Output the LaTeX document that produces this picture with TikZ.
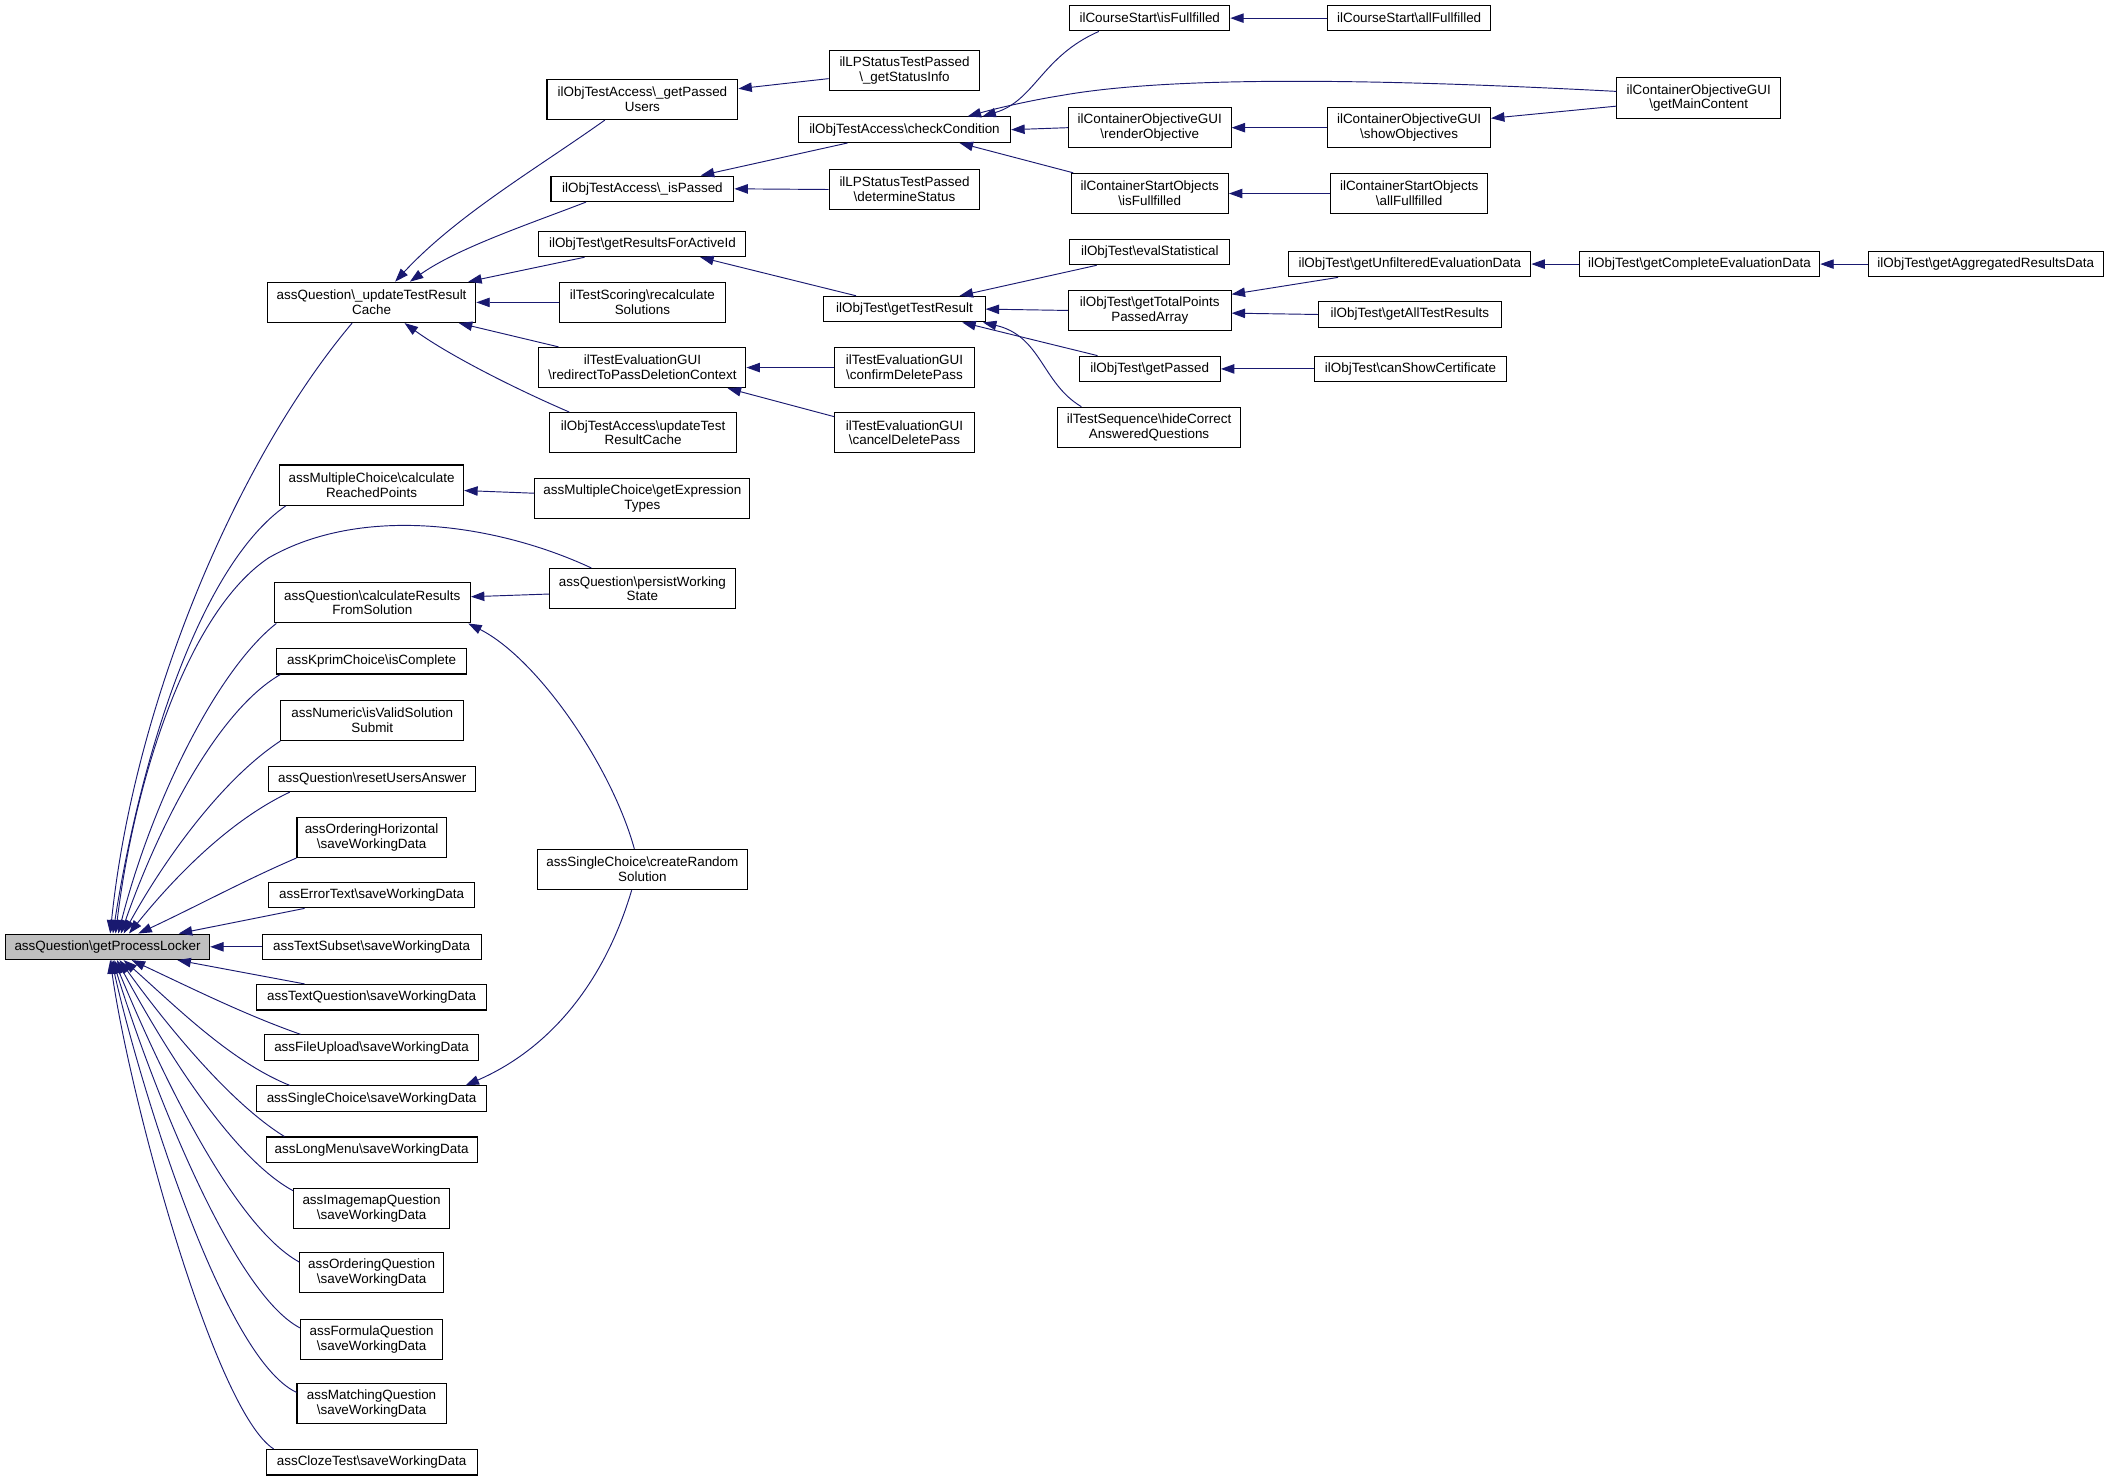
\documentclass[tikz,border=0pt]{standalone}
\usepackage{fontspec}
\setmainfont{Liberation Sans}
\usetikzlibrary{arrows.meta}
\definecolor{edgeblue}{HTML}{191970}
\definecolor{rootgray}{HTML}{BFBFBF}
\newcommand{\bs}{\textbackslash}
\tikzset{
  fn/.style={draw=black, line width=0.8pt, fill=white, inner sep=0pt, align=center,
    minimum height=19pt, font=\fontsize{10}{11}\selectfont},
  fntwo/.style={fn, minimum height=30pt},
  rootfn/.style={fn, fill=rootgray},
  edge/.style={draw=edgeblue, line width=0.7pt, -{Triangle[length=10pt,width=7pt]}},
}
\begin{document}
\begin{tikzpicture}[x=1pt,y=-1pt]
\useasboundingbox (0,0) rectangle (1568.5,1102);
% root
\node[rootfn, minimum width=152pt] (root) at (80,704.5) {assQuestion\bs getProcessLocker};
% column 2
\node[fntwo, minimum width=155pt] (uq) at (276.5,225) {assQuestion\bs\_updateTestResult\\Cache};
\node[fntwo, minimum width=137pt] (mc) at (276.5,361) {assMultipleChoice\bs calculate\\ReachedPoints};
\node[fntwo, minimum width=146pt] (cr) at (277,448.5) {assQuestion\bs calculateResults\\FromSolution};
\node[fn, minimum width=141pt] (kp) at (276.5,492) {assKprimChoice\bs isComplete};
\node[fntwo, minimum width=136pt] (nv) at (277,536) {assNumeric\bs isValidSolution\\Submit};
\node[fn, minimum width=154pt] (ru) at (277,579.5) {assQuestion\bs resetUsersAnswer};
\node[fntwo, minimum width=111pt] (oh) at (276.5,623) {assOrderingHorizontal\\\bs saveWorkingData};
\node[fn, minimum width=153pt] (et) at (276.5,666) {assErrorText\bs saveWorkingData};
\node[fn, minimum width=163pt] (ts) at (276.5,704.5) {assTextSubset\bs saveWorkingData};
\node[fn, minimum width=171pt] (tq) at (276.5,742) {assTextQuestion\bs saveWorkingData};
\node[fn, minimum width=159pt] (fu) at (276.5,779.5) {assFileUpload\bs saveWorkingData};
\node[fn, minimum width=171pt] (sc) at (276.5,817.5) {assSingleChoice\bs saveWorkingData};
\node[fn, minimum width=157pt] (lm) at (276.5,855.5) {assLongMenu\bs saveWorkingData};
\node[fntwo, minimum width=116pt] (im) at (276.5,899) {assImagemapQuestion\\\bs saveWorkingData};
\node[fntwo, minimum width=107pt] (oq) at (276.5,947) {assOrderingQuestion\\\bs saveWorkingData};
\node[fntwo, minimum width=106pt] (fq) at (276.5,996.5) {assFormulaQuestion\\\bs saveWorkingData};
\node[fntwo, minimum width=111pt] (mq) at (276.5,1044.5) {assMatchingQuestion\\\bs saveWorkingData};
\node[fn, minimum width=157pt] (ct) at (276.5,1088) {assClozeTest\bs saveWorkingData};
% column 3
\node[fntwo, minimum width=142pt] (gpu) at (478,74) {ilObjTestAccess\bs\_getPassed\\Users};
\node[fn, minimum width=136pt] (ip) at (478,140.5) {ilObjTestAccess\bs\_isPassed};
\node[fn, minimum width=154pt] (gra) at (478,181.5) {ilObjTest\bs getResultsForActiveId};
\node[fntwo, minimum width=124pt] (rs) at (478,225) {ilTestScoring\bs recalculate\\Solutions};
\node[fntwo, minimum width=154pt] (rd) at (478,273.5) {ilTestEvaluationGUI\\\bs redirectToPassDeletionContext};
\node[fntwo, minimum width=139pt] (ou) at (478.5,322) {ilObjTestAccess\bs updateTest\\ResultCache};
\node[fntwo, minimum width=160pt] (ge) at (478,371) {assMultipleChoice\bs getExpression\\Types};
\node[fntwo, minimum width=138pt] (pw) at (478,438) {assQuestion\bs persistWorking\\State};
\node[fntwo, minimum width=156pt] (crs) at (478,647) {assSingleChoice\bs createRandom\\Solution};
% column 4
\node[fntwo, minimum width=112pt] (gsi) at (673,52.5) {ilLPStatusTestPassed\\\bs\_getStatusInfo};
\node[fn, minimum width=158pt] (cc) at (673,96.5) {ilObjTestAccess\bs checkCondition};
\node[fntwo, minimum width=112pt] (ds) at (673,141) {ilLPStatusTestPassed\\\bs determineStatus};
\node[fn, minimum width=120pt] (gtr) at (673,230) {ilObjTest\bs getTestResult};
\node[fntwo, minimum width=104pt] (cdp) at (673,273.5) {ilTestEvaluationGUI\\\bs confirmDeletePass};
\node[fntwo, minimum width=104pt] (cadp) at (673,322) {ilTestEvaluationGUI\\\bs cancelDeletePass};
% column 5
\node[fn, minimum width=119pt] (csi) at (855.5,13.5) {ilCourseStart\bs isFullfilled};
\node[fntwo, minimum width=121pt] (ro) at (855.5,95) {ilContainerObjectiveGUI\\\bs renderObjective};
\node[fntwo, minimum width=117pt] (csoi) at (855.5,144) {ilContainerStartObjects\\\bs isFullfilled};
\node[fn, minimum width=119pt] (es) at (855.5,187.5) {ilObjTest\bs evalStatistical};
\node[fntwo, minimum width=121pt] (tpp) at (855.5,231) {ilObjTest\bs getTotalPoints\\PassedArray};
\node[fn, minimum width=105pt] (gp) at (855.5,274.5) {ilObjTest\bs getPassed};
\node[fntwo, minimum width=136pt] (hc) at (855,318) {ilTestSequence\bs hideCorrect\\AnsweredQuestions};
% column 6
\node[fn, minimum width=121pt] (csa) at (1048.5,13.5) {ilCourseStart\bs allFullfilled};
\node[fntwo, minimum width=121pt] (so) at (1048.5,95) {ilContainerObjectiveGUI\\\bs showObjectives};
\node[fntwo, minimum width=117pt] (csoa) at (1048.5,144) {ilContainerStartObjects\\\bs allFullfilled};
\node[fn, minimum width=180pt] (ued) at (1049,196.5) {ilObjTest\bs getUnfilteredEvaluationData};
\node[fn, minimum width=136pt] (atr) at (1049,234) {ilObjTest\bs getAllTestResults};
\node[fn, minimum width=143pt] (csc) at (1049.5,274.5) {ilObjTest\bs canShowCertificate};
% column 7, 8
\node[fntwo, minimum width=122pt] (gmc) at (1264,73) {ilContainerObjectiveGUI\\\bs getMainContent};
\node[fn, minimum width=179pt] (ced) at (1264.5,196.5) {ilObjTest\bs getCompleteEvaluationData};
\node[fn, minimum width=175pt] (ard) at (1477.5,196.5) {ilObjTest\bs getAggregatedResultsData};

% ---- edges into root
\draw[edge] ([xshift=-14.5pt]uq.south) .. controls (178,340) and (100,520) .. ([xshift=2pt]root.north);
\draw[edge] ([xshift=5pt]mc.south west) .. controls (150,420) and (105,560) .. ([xshift=4pt]root.north);
\draw[edge] ([xshift=-38pt]pw.north) .. controls (370,390) and (270,375) .. (200,415) .. controls (140,455) and (100,580) .. ([xshift=6pt]root.north);
\draw[edge] ([xshift=2pt]cr.south west) .. controls (160,500) and (112,600) .. ([xshift=8pt]root.north);
\draw[edge] ([xshift=3pt]kp.south west) .. controls (160,530) and (116,620) .. ([xshift=10pt]root.north);
\draw[edge] (nv.south west) .. controls (165,580) and (122,640) .. ([xshift=12pt]root.north);
\draw[edge] ([xshift=16pt]ru.south west) .. controls (172,610) and (132,650) .. ([xshift=16pt]root.north);
\draw[edge] (oh.south west) .. controls (182,655) and (145,675) .. ([xshift=23pt]root.north);
\draw[edge] ([xshift=27pt]et.south west) -- ([xshift=53pt]root.north);
\draw[edge] (ts.west) -- (root.east);
\draw[edge] ([xshift=36pt]tq.north west) -- ([xshift=52pt]root.south);
\draw[edge] ([xshift=27pt]fu.north west) .. controls (182,755) and (142,735) .. ([xshift=18pt]root.south);
\draw[edge] ([xshift=25pt]sc.north west) .. controls (172,790) and (132,750) .. ([xshift=12pt]root.south);
\draw[edge] ([xshift=14pt]lm.north west) .. controls (170,820) and (122,760) .. ([xshift=9pt]root.south);
\draw[edge] ([yshift=13pt]im.west) .. controls (170,860) and (117,770) .. ([xshift=7pt]root.south);
\draw[edge] ([yshift=8pt]oq.west) .. controls (170,910) and (112,780) .. ([xshift=5pt]root.south);
\draw[edge] ([yshift=8.5pt]fq.west) .. controls (170,960) and (107,790) .. ([xshift=4pt]root.south);
\draw[edge] ([yshift=8.5pt]mq.west) .. controls (165,1010) and (102,800) .. ([xshift=3pt]root.south);
\draw[edge] ([xshift=6pt]ct.north west) .. controls (160,1050) and (97,820) .. ([xshift=2pt]root.south);

% ---- edges into uq
\draw[edge] ([xshift=-28pt]gpu.south) .. controls (400,125) and (340,160) .. ([xshift=17.5pt]uq.north);
\draw[edge] ([xshift=-42pt]ip.south) .. controls (390,168) and (340,185) .. ([xshift=28.5pt]uq.north);
\draw[edge] ([xshift=-43pt]gra.south) -- ([xshift=-6pt]uq.north east);
\draw[edge] (rs.west) -- (uq.east);
\draw[edge] ([xshift=15pt]rd.north west) -- ([xshift=-13pt]uq.south east);
\draw[edge] ([xshift=15pt]ou.north west) .. controls (385,290) and (335,265) .. ([xshift=24.5pt]uq.south);

% ---- column 3/4 edges
\draw[edge] ([yshift=-6pt]gsi.west) -- ([yshift=8pt]gpu.east);
\draw[edge] ([xshift=37pt]cc.south west) -- ([xshift=-25pt]ip.north east);
\draw[edge] (ds.west) -- (ip.east);
\draw[edge] ([xshift=-36pt]gtr.north) -- ([xshift=43pt]gra.south);
\draw[edge] (cdp.west) -- (rd.east);
\draw[edge] ([yshift=12pt]cadp.west) -- ([xshift=-14pt]rd.south east);
\draw[edge] ([yshift=4pt]ge.west) -- ([yshift=-4pt]mc.east);
\draw[edge] ([yshift=-4pt]pw.west) -- ([yshift=4.5pt]cr.east);
\draw[edge] ([xshift=-6pt]crs.north) .. controls (455,570) and (400,490) .. ([xshift=-2pt]cr.south east);
\draw[edge] ([xshift=-8pt]crs.south) .. controls (450,730) and (410,780) .. ([xshift=-16pt]sc.north east);

% ---- into checkCondition
\draw[edge] ([xshift=22pt]csi.south west) .. controls (775,42) and (770,75) .. ([xshift=58pt]cc.north);
\draw[edge] ([yshift=5pt]gmc.west) .. controls (1050,60) and (880,55) .. (790,71) .. controls (765,75) and (740,81) .. ([xshift=47pt]cc.north);
\draw[edge] (ro.west) -- (cc.east);
\draw[edge] ([xshift=2pt]csoi.north west) -- ([xshift=41pt]cc.south);
\draw[edge] (csa.west) -- (csi.east);
\draw[edge] (so.west) -- (ro.east);
\draw[edge] ([yshift=-6pt]gmc.west) -- ([yshift=7pt]so.east);
\draw[edge] (csoa.west) -- (csoi.east);

% ---- into getTestResult
\draw[edge] ([xshift=-39.5pt]es.south) -- ([xshift=41pt]gtr.north);
\draw[edge] (tpp.west) -- (gtr.east);
\draw[edge] ([xshift=14pt]gp.north west) -- ([xshift=43pt]gtr.south);
\draw[edge] ([xshift=18pt]hc.north west) .. controls (775,285) and (775,250) .. ([xshift=-2pt]gtr.south east);
\draw[edge] ([xshift=37pt]ued.south west) -- ([yshift=12pt]tpp.east);
\draw[edge] (atr.west) -- ([yshift=-2pt]tpp.east);
\draw[edge] (ced.west) -- (ued.east);
\draw[edge] (ard.west) -- (ced.east);
\draw[edge] (csc.west) -- (gp.east);
\end{tikzpicture}
\end{document}
